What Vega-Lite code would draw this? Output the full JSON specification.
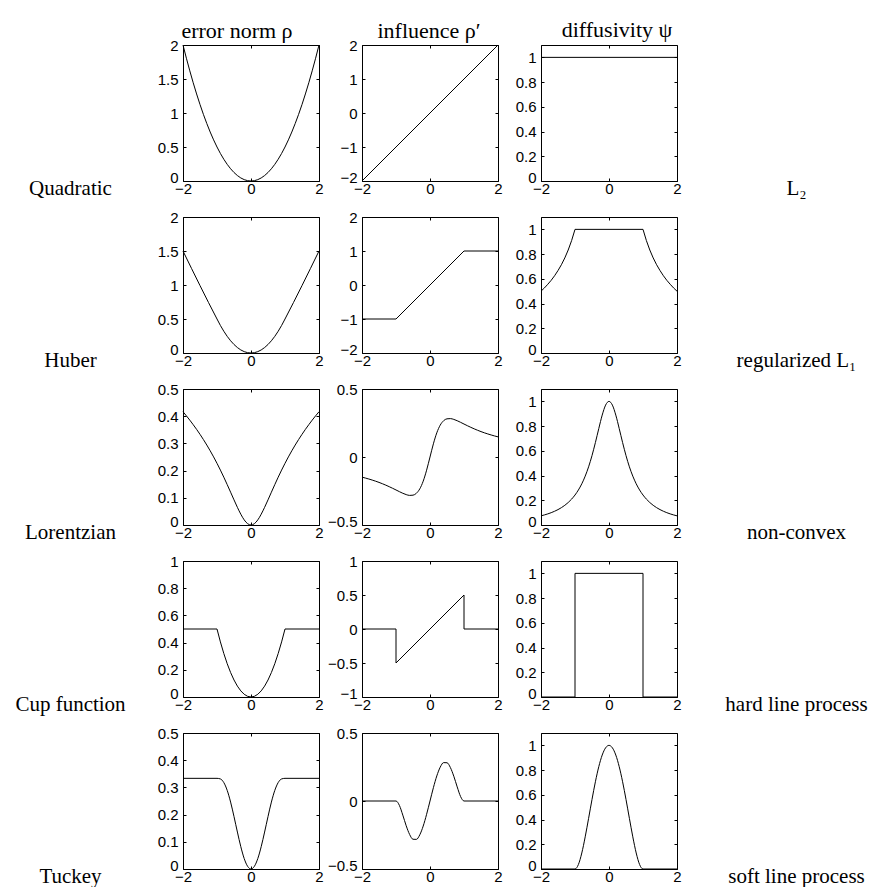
{
"$schema": "https://vega.github.io/schema/vega-lite/v6.json",
"background": "white",
"padding": {"left": 14, "top": 18, "right": 0, "bottom": 0},
"datasets": {
"Q_r": [{"x":-2,"y":2},{"x":-1.9,"y":1.805},{"x":-1.8,"y":1.62},{"x":-1.7,"y":1.445},{"x":-1.6,"y":1.28},{"x":-1.5,"y":1.125},{"x":-1.4,"y":0.98},{"x":-1.3,"y":0.845},{"x":-1.2,"y":0.72},{"x":-1.1,"y":0.605},{"x":-1,"y":0.5},{"x":-0.9,"y":0.405},{"x":-0.8,"y":0.32},{"x":-0.7,"y":0.245},{"x":-0.6,"y":0.18},{"x":-0.5,"y":0.125},{"x":-0.4,"y":0.08},{"x":-0.3,"y":0.045},{"x":-0.2,"y":0.02},{"x":-0.1,"y":0.005},{"x":0,"y":0},{"x":0.1,"y":0.005},{"x":0.2,"y":0.02},{"x":0.3,"y":0.045},{"x":0.4,"y":0.08},{"x":0.5,"y":0.125},{"x":0.6,"y":0.18},{"x":0.7,"y":0.245},{"x":0.8,"y":0.32},{"x":0.9,"y":0.405},{"x":1,"y":0.5},{"x":1.1,"y":0.605},{"x":1.2,"y":0.72},{"x":1.3,"y":0.845},{"x":1.4,"y":0.98},{"x":1.5,"y":1.125},{"x":1.6,"y":1.28},{"x":1.7,"y":1.445},{"x":1.8,"y":1.62},{"x":1.9,"y":1.805},{"x":2,"y":2}],
"Q_d": [{"x":-2,"y":-2},{"x":2,"y":2}],
"Q_p": [{"x":-2,"y":1},{"x":2,"y":1}],
"H_r": [{"x":-2,"y":1.5},{"x":-1,"y":0.5},{"x":-0.9,"y":0.405},{"x":-0.8,"y":0.32},{"x":-0.7,"y":0.245},{"x":-0.6,"y":0.18},{"x":-0.5,"y":0.125},{"x":-0.4,"y":0.08},{"x":-0.3,"y":0.045},{"x":-0.2,"y":0.02},{"x":-0.1,"y":0.005},{"x":0,"y":0},{"x":0.1,"y":0.005},{"x":0.2,"y":0.02},{"x":0.3,"y":0.045},{"x":0.4,"y":0.08},{"x":0.5,"y":0.125},{"x":0.6,"y":0.18},{"x":0.7,"y":0.245},{"x":0.8,"y":0.32},{"x":0.9,"y":0.405},{"x":1,"y":0.5},{"x":2,"y":1.5}],
"H_d": [{"x":-2,"y":-1},{"x":-1,"y":-1},{"x":1,"y":1},{"x":2,"y":1}],
"H_p": [{"x":-2,"y":0.5},{"x":-1.9,"y":0.526},{"x":-1.8,"y":0.556},{"x":-1.7,"y":0.588},{"x":-1.6,"y":0.625},{"x":-1.5,"y":0.667},{"x":-1.4,"y":0.714},{"x":-1.3,"y":0.769},{"x":-1.2,"y":0.833},{"x":-1.1,"y":0.909},{"x":-1,"y":1},{"x":1,"y":1},{"x":1.1,"y":0.909},{"x":1.2,"y":0.833},{"x":1.3,"y":0.769},{"x":1.4,"y":0.714},{"x":1.5,"y":0.667},{"x":1.6,"y":0.625},{"x":1.7,"y":0.588},{"x":1.8,"y":0.556},{"x":1.9,"y":0.526},{"x":2,"y":0.5}],
"L_r": [{"x":-2,"y":0.4164},{"x":-1.9,"y":0.4013},{"x":-1.8,"y":0.3855},{"x":-1.7,"y":0.3689},{"x":-1.6,"y":0.3516},{"x":-1.5,"y":0.3333},{"x":-1.4,"y":0.3142},{"x":-1.3,"y":0.294},{"x":-1.2,"y":0.2728},{"x":-1.1,"y":0.2504},{"x":-1,"y":0.2267},{"x":-0.9,"y":0.2019},{"x":-0.8,"y":0.1758},{"x":-0.7,"y":0.1486},{"x":-0.6,"y":0.1206},{"x":-0.5,"y":0.0924},{"x":-0.4,"y":0.0649},{"x":-0.3,"y":0.0397},{"x":-0.2,"y":0.0188},{"x":-0.1,"y":0.0049},{"x":0,"y":0},{"x":0.1,"y":0.0049},{"x":0.2,"y":0.0188},{"x":0.3,"y":0.0397},{"x":0.4,"y":0.0649},{"x":0.5,"y":0.0924},{"x":0.6,"y":0.1206},{"x":0.7,"y":0.1486},{"x":0.8,"y":0.1758},{"x":0.9,"y":0.2019},{"x":1,"y":0.2267},{"x":1.1,"y":0.2504},{"x":1.2,"y":0.2728},{"x":1.3,"y":0.294},{"x":1.4,"y":0.3142},{"x":1.5,"y":0.3333},{"x":1.6,"y":0.3516},{"x":1.7,"y":0.3689},{"x":1.8,"y":0.3855},{"x":1.9,"y":0.4013},{"x":2,"y":0.4164}],
"L_d": [{"x":-2,"y":-0.1481},{"x":-1.9,"y":-0.1547},{"x":-1.8,"y":-0.1618},{"x":-1.7,"y":-0.1695},{"x":-1.6,"y":-0.1778},{"x":-1.5,"y":-0.1868},{"x":-1.4,"y":-0.1965},{"x":-1.3,"y":-0.207},{"x":-1.2,"y":-0.2182},{"x":-1.1,"y":-0.2301},{"x":-1,"y":-0.2424},{"x":-0.9,"y":-0.2549},{"x":-0.8,"y":-0.2667},{"x":-0.7,"y":-0.2765},{"x":-0.6,"y":-0.2824},{"x":-0.5,"y":-0.2807},{"x":-0.4,"y":-0.2667},{"x":-0.3,"y":-0.2341},{"x":-0.2,"y":-0.1778},{"x":-0.1,"y":-0.097},{"x":0,"y":0},{"x":0.1,"y":0.097},{"x":0.2,"y":0.1778},{"x":0.3,"y":0.2341},{"x":0.4,"y":0.2667},{"x":0.5,"y":0.2807},{"x":0.6,"y":0.2824},{"x":0.7,"y":0.2765},{"x":0.8,"y":0.2667},{"x":0.9,"y":0.2549},{"x":1,"y":0.2424},{"x":1.1,"y":0.2301},{"x":1.2,"y":0.2182},{"x":1.3,"y":0.207},{"x":1.4,"y":0.1965},{"x":1.5,"y":0.1868},{"x":1.6,"y":0.1778},{"x":1.7,"y":0.1695},{"x":1.8,"y":0.1618},{"x":1.9,"y":0.1547},{"x":2,"y":0.1481}],
"L_p": [{"x":-2,"y":0.0741},{"x":-1.9,"y":0.0814},{"x":-1.8,"y":0.0899},{"x":-1.7,"y":0.0997},{"x":-1.6,"y":0.1111},{"x":-1.5,"y":0.1245},{"x":-1.4,"y":0.1404},{"x":-1.3,"y":0.1592},{"x":-1.2,"y":0.1818},{"x":-1.1,"y":0.2092},{"x":-1,"y":0.2424},{"x":-0.9,"y":0.2832},{"x":-0.8,"y":0.3333},{"x":-0.7,"y":0.3951},{"x":-0.6,"y":0.4706},{"x":-0.5,"y":0.5614},{"x":-0.4,"y":0.6667},{"x":-0.3,"y":0.7805},{"x":-0.2,"y":0.8889},{"x":-0.1,"y":0.9697},{"x":0,"y":1},{"x":0.1,"y":0.9697},{"x":0.2,"y":0.8889},{"x":0.3,"y":0.7805},{"x":0.4,"y":0.6667},{"x":0.5,"y":0.5614},{"x":0.6,"y":0.4706},{"x":0.7,"y":0.3951},{"x":0.8,"y":0.3333},{"x":0.9,"y":0.2832},{"x":1,"y":0.2424},{"x":1.1,"y":0.2092},{"x":1.2,"y":0.1818},{"x":1.3,"y":0.1592},{"x":1.4,"y":0.1404},{"x":1.5,"y":0.1245},{"x":1.6,"y":0.1111},{"x":1.7,"y":0.0997},{"x":1.8,"y":0.0899},{"x":1.9,"y":0.0814},{"x":2,"y":0.0741}],
"C_r": [{"x":-2,"y":0.5},{"x":-1,"y":0.5},{"x":-0.9,"y":0.405},{"x":-0.8,"y":0.32},{"x":-0.7,"y":0.245},{"x":-0.6,"y":0.18},{"x":-0.5,"y":0.125},{"x":-0.4,"y":0.08},{"x":-0.3,"y":0.045},{"x":-0.2,"y":0.02},{"x":-0.1,"y":0.005},{"x":0,"y":0},{"x":0.1,"y":0.005},{"x":0.2,"y":0.02},{"x":0.3,"y":0.045},{"x":0.4,"y":0.08},{"x":0.5,"y":0.125},{"x":0.6,"y":0.18},{"x":0.7,"y":0.245},{"x":0.8,"y":0.32},{"x":0.9,"y":0.405},{"x":1,"y":0.5},{"x":2,"y":0.5}],
"C_d": [{"x":-2,"y":0},{"x":-1,"y":0},{"x":-1,"y":-0.5},{"x":1,"y":0.5},{"x":1,"y":0},{"x":2,"y":0}],
"C_p": [{"x":-2,"y":0},{"x":-1,"y":0},{"x":-1,"y":1},{"x":1,"y":1},{"x":1,"y":0},{"x":2,"y":0}],
"T_r": [{"x":-2,"y":0.3333},{"x":-1,"y":0.3333},{"x":-0.9,"y":0.3311},{"x":-0.8,"y":0.3178},{"x":-0.7,"y":0.2891},{"x":-0.6,"y":0.246},{"x":-0.5,"y":0.1927},{"x":-0.4,"y":0.1358},{"x":-0.3,"y":0.0821},{"x":-0.2,"y":0.0384},{"x":-0.1,"y":0.0099},{"x":0,"y":0},{"x":0.1,"y":0.0099},{"x":0.2,"y":0.0384},{"x":0.3,"y":0.0821},{"x":0.4,"y":0.1358},{"x":0.5,"y":0.1927},{"x":0.6,"y":0.246},{"x":0.7,"y":0.2891},{"x":0.8,"y":0.3178},{"x":0.9,"y":0.3311},{"x":1,"y":0.3333},{"x":2,"y":0.3333}],
"T_d": [{"x":-2,"y":0},{"x":-1,"y":0},{"x":-0.9,"y":-0.0325},{"x":-0.8,"y":-0.1037},{"x":-0.7,"y":-0.1821},{"x":-0.6,"y":-0.2458},{"x":-0.5,"y":-0.2813},{"x":-0.4,"y":-0.2822},{"x":-0.3,"y":-0.2484},{"x":-0.2,"y":-0.1843},{"x":-0.1,"y":-0.098},{"x":0,"y":0},{"x":0.1,"y":0.098},{"x":0.2,"y":0.1843},{"x":0.3,"y":0.2484},{"x":0.4,"y":0.2822},{"x":0.5,"y":0.2813},{"x":0.6,"y":0.2458},{"x":0.7,"y":0.1821},{"x":0.8,"y":0.1037},{"x":0.9,"y":0.0325},{"x":1,"y":0},{"x":2,"y":0}],
"T_p": [{"x":-2,"y":0},{"x":-1,"y":0},{"x":-0.9,"y":0.0361},{"x":-0.8,"y":0.1296},{"x":-0.7,"y":0.2601},{"x":-0.6,"y":0.4096},{"x":-0.5,"y":0.5625},{"x":-0.4,"y":0.7056},{"x":-0.3,"y":0.8281},{"x":-0.2,"y":0.9216},{"x":-0.1,"y":0.9801},{"x":0,"y":1},{"x":0.1,"y":0.9801},{"x":0.2,"y":0.9216},{"x":0.3,"y":0.8281},{"x":0.4,"y":0.7056},{"x":0.5,"y":0.5625},{"x":0.6,"y":0.4096},{"x":0.7,"y":0.2601},{"x":0.8,"y":0.1296},{"x":0.9,"y":0.0361},{"x":1,"y":0},{"x":2,"y":0}]
},
"columns": 3,
"spacing": {"row": 36, "column": 43},
"bounds": "flush",
"concat": [
{"data": {"name": "Q_r"}, "title": {"text": "error norm ρ", "dx": -14, "offset": -5},
 "mark": {"type": "line", "color": "black", "strokeWidth": 1, "interpolate": "monotone"},
 "encoding": {"x": {"field": "x", "type": "quantitative", "scale": {"domain": [-2, 2], "nice": false}, "axis": {"values": [-2, 0, 2], "title": "Quadratic", "titleX": -113}},
  "y": {"field": "y", "type": "quantitative", "scale": {"domain": [0, 2], "nice": false}, "axis": {"values": [0, 0.5, 1, 1.5, 2], "title": null}}}},
{"data": {"name": "Q_d"}, "title": {"text": "influence ρ′", "dx": -1, "offset": -5},
 "mark": {"type": "line", "color": "black", "strokeWidth": 1},
 "encoding": {"x": {"field": "x", "type": "quantitative", "scale": {"domain": [-2, 2], "nice": false}, "axis": {"values": [-2, 0, 2], "title": null}},
  "y": {"field": "y", "type": "quantitative", "scale": {"domain": [-2, 2], "nice": false}, "axis": {"values": [-2, -1, 0, 1, 2], "title": null}}}},
{"data": {"name": "Q_p"}, "title": {"text": "diffusivity ψ", "dx": 8, "offset": 3},
 "mark": {"type": "line", "color": "black", "strokeWidth": 1},
 "encoding": {"x": {"field": "x", "type": "quantitative", "scale": {"domain": [-2, 2], "nice": false}, "axis": {"values": [-2, 0, 2], "title": "L₂", "titleX": 255}},
  "y": {"field": "y", "type": "quantitative", "scale": {"domain": [0, 1.1], "nice": false}, "axis": {"values": [0, 0.2, 0.4, 0.6, 0.8, 1], "title": null}}}},
{"data": {"name": "H_r"},
 "mark": {"type": "line", "color": "black", "strokeWidth": 1, "interpolate": "monotone"},
 "encoding": {"x": {"field": "x", "type": "quantitative", "scale": {"domain": [-2, 2], "nice": false}, "axis": {"values": [-2, 0, 2], "title": "Huber", "titleX": -113}},
  "y": {"field": "y", "type": "quantitative", "scale": {"domain": [0, 2], "nice": false}, "axis": {"values": [0, 0.5, 1, 1.5, 2], "title": null}}}},
{"data": {"name": "H_d"},
 "mark": {"type": "line", "color": "black", "strokeWidth": 1},
 "encoding": {"x": {"field": "x", "type": "quantitative", "scale": {"domain": [-2, 2], "nice": false}, "axis": {"values": [-2, 0, 2], "title": null}},
  "y": {"field": "y", "type": "quantitative", "scale": {"domain": [-2, 2], "nice": false}, "axis": {"values": [-2, -1, 0, 1, 2], "title": null}}}},
{"data": {"name": "H_p"},
 "mark": {"type": "line", "color": "black", "strokeWidth": 1},
 "encoding": {"x": {"field": "x", "type": "quantitative", "scale": {"domain": [-2, 2], "nice": false}, "axis": {"values": [-2, 0, 2], "title": "regularized L₁", "titleX": 255}},
  "y": {"field": "y", "type": "quantitative", "scale": {"domain": [0, 1.1], "nice": false}, "axis": {"values": [0, 0.2, 0.4, 0.6, 0.8, 1], "title": null}}}},
{"data": {"name": "L_r"},
 "mark": {"type": "line", "color": "black", "strokeWidth": 1, "interpolate": "monotone"},
 "encoding": {"x": {"field": "x", "type": "quantitative", "scale": {"domain": [-2, 2], "nice": false}, "axis": {"values": [-2, 0, 2], "title": "Lorentzian", "titleX": -113}},
  "y": {"field": "y", "type": "quantitative", "scale": {"domain": [0, 0.5], "nice": false}, "axis": {"values": [0, 0.1, 0.2, 0.3, 0.4, 0.5], "title": null}}}},
{"data": {"name": "L_d"},
 "mark": {"type": "line", "color": "black", "strokeWidth": 1, "interpolate": "monotone"},
 "encoding": {"x": {"field": "x", "type": "quantitative", "scale": {"domain": [-2, 2], "nice": false}, "axis": {"values": [-2, 0, 2], "title": null}},
  "y": {"field": "y", "type": "quantitative", "scale": {"domain": [-0.5, 0.5], "nice": false}, "axis": {"values": [-0.5, 0, 0.5], "title": null}}}},
{"data": {"name": "L_p"},
 "mark": {"type": "line", "color": "black", "strokeWidth": 1, "interpolate": "monotone"},
 "encoding": {"x": {"field": "x", "type": "quantitative", "scale": {"domain": [-2, 2], "nice": false}, "axis": {"values": [-2, 0, 2], "title": "non-convex", "titleX": 255}},
  "y": {"field": "y", "type": "quantitative", "scale": {"domain": [0, 1.1], "nice": false}, "axis": {"values": [0, 0.2, 0.4, 0.6, 0.8, 1], "title": null}}}},
{"data": {"name": "C_r"},
 "mark": {"type": "line", "color": "black", "strokeWidth": 1},
 "encoding": {"x": {"field": "x", "type": "quantitative", "scale": {"domain": [-2, 2], "nice": false}, "axis": {"values": [-2, 0, 2], "title": "Cup function", "titleX": -113}},
  "y": {"field": "y", "type": "quantitative", "scale": {"domain": [0, 1], "nice": false}, "axis": {"values": [0, 0.2, 0.4, 0.6, 0.8, 1], "title": null}}}},
{"data": {"name": "C_d"},
 "mark": {"type": "line", "color": "black", "strokeWidth": 1},
 "encoding": {"x": {"field": "x", "type": "quantitative", "scale": {"domain": [-2, 2], "nice": false}, "axis": {"values": [-2, 0, 2], "title": null}},
  "y": {"field": "y", "type": "quantitative", "scale": {"domain": [-1, 1], "nice": false}, "axis": {"values": [-1, -0.5, 0, 0.5, 1], "title": null}}}},
{"data": {"name": "C_p"},
 "mark": {"type": "line", "color": "black", "strokeWidth": 1},
 "encoding": {"x": {"field": "x", "type": "quantitative", "scale": {"domain": [-2, 2], "nice": false}, "axis": {"values": [-2, 0, 2], "title": "hard line process", "titleX": 255}},
  "y": {"field": "y", "type": "quantitative", "scale": {"domain": [0, 1.1], "nice": false}, "axis": {"values": [0, 0.2, 0.4, 0.6, 0.8, 1], "title": null}}}},
{"data": {"name": "T_r"},
 "mark": {"type": "line", "color": "black", "strokeWidth": 1, "interpolate": "monotone"},
 "encoding": {"x": {"field": "x", "type": "quantitative", "scale": {"domain": [-2, 2], "nice": false}, "axis": {"values": [-2, 0, 2], "title": "Tuckey", "titleX": -113}},
  "y": {"field": "y", "type": "quantitative", "scale": {"domain": [0, 0.5], "nice": false}, "axis": {"values": [0, 0.1, 0.2, 0.3, 0.4, 0.5], "title": null}}}},
{"data": {"name": "T_d"},
 "mark": {"type": "line", "color": "black", "strokeWidth": 1, "interpolate": "monotone"},
 "encoding": {"x": {"field": "x", "type": "quantitative", "scale": {"domain": [-2, 2], "nice": false}, "axis": {"values": [-2, 0, 2], "title": null}},
  "y": {"field": "y", "type": "quantitative", "scale": {"domain": [-0.5, 0.5], "nice": false}, "axis": {"values": [-0.5, 0, 0.5], "title": null}}}},
{"data": {"name": "T_p"},
 "mark": {"type": "line", "color": "black", "strokeWidth": 1, "interpolate": "monotone"},
 "encoding": {"x": {"field": "x", "type": "quantitative", "scale": {"domain": [-2, 2], "nice": false}, "axis": {"values": [-2, 0, 2], "title": "soft line process", "titleX": 255}},
  "y": {"field": "y", "type": "quantitative", "scale": {"domain": [0, 1.1], "nice": false}, "axis": {"values": [0, 0.2, 0.4, 0.6, 0.8, 1], "title": null}}}}
],
"config": {
 "view": {"continuousWidth": 136, "continuousHeight": 136, "stroke": "black", "strokeWidth": 1},
 "numberFormat": "~g",
 "title": {"font": "Liberation Serif", "fontSize": 22, "fontWeight": "normal", "color": "black", "frame": "group", "baseline": "alphabetic", "anchor": "middle"},
 "axis": {"domain": false, "ticks": false, "grid": true, "gridColor": "black", "gridOpacity": 1, "gridWidth": 1, "gridDash": [3, 130, 3, 60],
  "labelFont": "Liberation Sans", "labelFontSize": 15, "labelColor": "black", "labelFlush": false, "labelOverlap": false,
  "titleFont": "Liberation Serif", "titleFontSize": 21, "titleFontWeight": "normal", "titleColor": "black"},
 "axisX": {"labelPadding": 0, "titleY": 13, "titleBaseline": "alphabetic", "titleAlign": "center"},
 "axisY": {"labelPadding": 5, "labelOffset": {"condition": {"test": "datum.index == 0", "value": -4}, "value": 0}}
}
}
